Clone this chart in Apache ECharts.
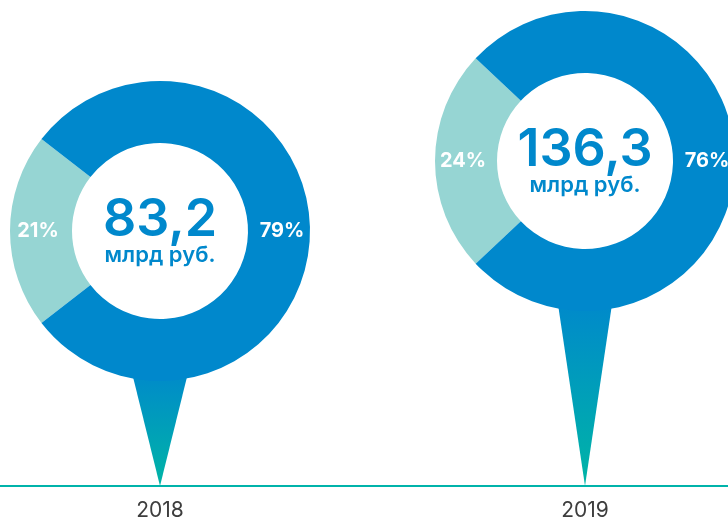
<!DOCTYPE html>
<html>
<head>
<meta charset="utf-8">
<script src="https://cdn.jsdelivr.net/npm/echarts@6/dist/echarts.min.js"></script>
<style>
  html, body { margin: 0; padding: 0; background: #fff; }
  #chart { width: 728px; height: 519px; }
</style>
</head>
<body>
<div id="chart"></div>
<script>
var years = ['2018', '2019'];
var totals = ['83,2', '136,3'];
var unitLabel = 'млрд руб.';
var smallShare = [21, 24];
var bigShare = [79, 76];

var BLUE = '#0088cc';
var LIGHT = '#96d5d3';
var TEAL = '#00b3aa';
var FONT = 'Inter, "Noto Sans", sans-serif';

var baseY = 486;
var pins = [
  { cx: 160, cy: 231 },
  { cx: 585, cy: 161 }
];
var inner = 88, outer = 150;

var chart = echarts.init(document.getElementById('chart'), null, { renderer: 'canvas' });

// one ring per year, small share centred on the left side
var series = years.map(function (year, i) {
  var half = smallShare[i] * 360 / 100 / 2;
  return {
    name: year,
    type: 'pie',
    z: 3,
    silent: true,
    center: [pins[i].cx, pins[i].cy],
    radius: [inner, outer],
    startAngle: 180 + half,
    clockwise: true,
    avoidLabelOverlap: false,
    label: {
      show: true,
      position: 'inside',
      formatter: '{c}%',
      color: '#fff',
      fontSize: 20,
      fontWeight: 'bold',
      fontFamily: FONT
    },
    labelLine: { show: false },
    itemStyle: { borderWidth: 0 },
    data: [
      { value: smallShare[i], itemStyle: { color: LIGHT } },
      { value: bigShare[i], itemStyle: { color: BLUE } }
    ]
  };
});

var graphics = [];
graphics.push({
  type: 'line',
  z: 1,
  shape: { x1: 0, y1: baseY, x2: 728, y2: baseY },
  style: { stroke: TEAL, lineWidth: 2 }
});

years.forEach(function (year, i) {
  var p = pins[i];
  // pin tail: starts a bit inside the ring so the joint is hidden
  var topY = p.cy + outer - 14;
  var len = baseY - (p.cy + outer);
  var hw = 26 * (baseY - topY) / len;
  graphics.push({
    type: 'polygon',
    z: 0,
    shape: { points: [[p.cx - hw, topY], [p.cx + hw, topY], [p.cx, baseY]] },
    style: {
      fill: new echarts.graphic.LinearGradient(0, 0, 0, 1, [
        { offset: 0, color: BLUE },
        { offset: 1, color: '#00b5a6' }
      ])
    }
  });
  graphics.push({
    type: 'text',
    z: 5,
    x: p.cx,
    y: p.cy - 11,
    style: {
      text: totals[i], fill: BLUE, fontSize: 52, fontWeight: 600, fontFamily: FONT,
      align: 'center', verticalAlign: 'middle'
    }
  });
  graphics.push({
    type: 'text',
    z: 5,
    x: p.cx,
    y: p.cy + 24,
    style: {
      text: unitLabel, fill: BLUE, fontSize: 22, fontWeight: 600, fontFamily: FONT,
      align: 'center', verticalAlign: 'middle'
    }
  });
  graphics.push({
    type: 'text',
    z: 5,
    x: p.cx,
    y: 511,
    style: {
      text: year, fill: '#3d3d3d', fontSize: 21, fontFamily: FONT,
      align: 'center', verticalAlign: 'middle'
    }
  });
});

chart.setOption({
  backgroundColor: '#fff',
  animation: false,
  graphic: { elements: graphics },
  series: series
});
</script>
</body>
</html>
